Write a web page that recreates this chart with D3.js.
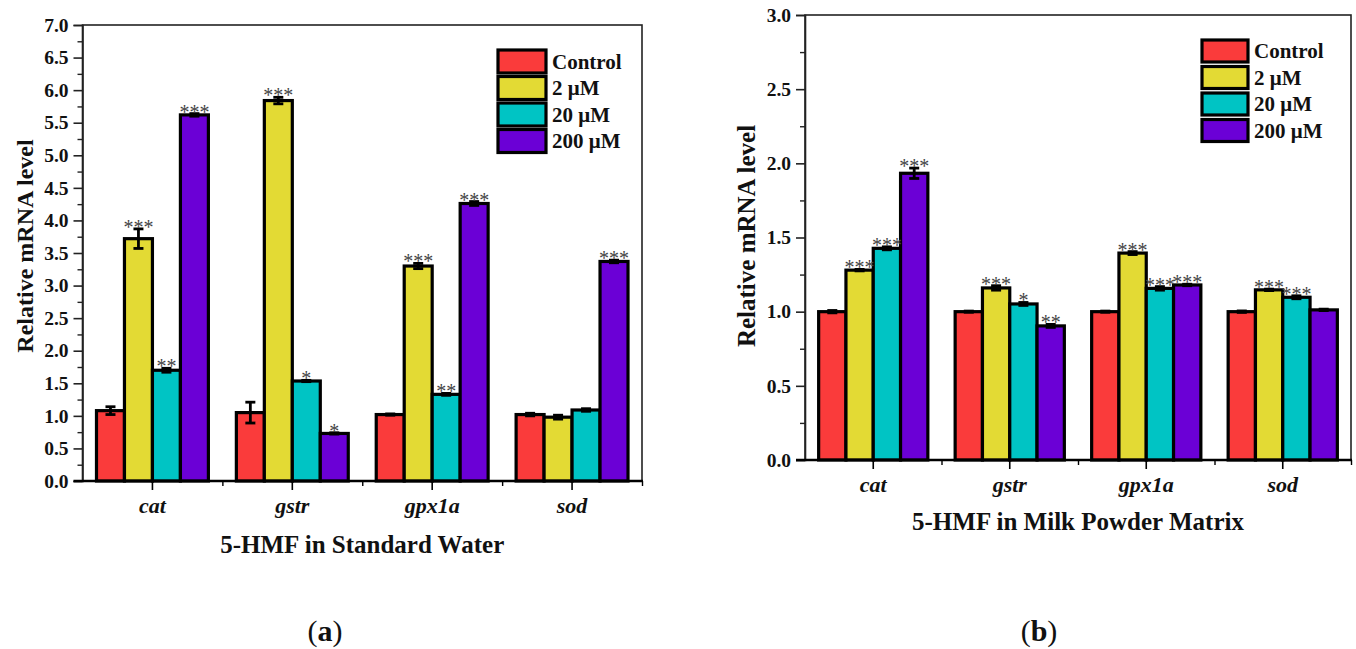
<!DOCTYPE html>
<html>
<head>
<meta charset="utf-8">
<script src="https://cdn.jsdelivr.net/npm/d3@7"></script>
<style>
  html, body { margin: 0; padding: 0; background: #fff; }
  svg { display: block; }
  text { font-family: "Liberation Serif", "Times New Roman", serif; }
</style>
</head>
<body>
<svg id="chart" width="1356" height="649"></svg>
<script>
// ---------------- DATA ----------------
const categories = ["cat", "gstr", "gpx1a", "sod"];
const seriesNames = ["Control", "2 μM", "20 μM", "200 μM"];

// Panel (a): 5-HMF in Standard Water
const waterControl = [1.08, 1.05, 1.02, 1.02];
const waterControlErr = [0.06, 0.16, 0.01, 0.02];
const water2 = [3.72, 5.84, 3.30, 0.98];
const water2Err = [0.15, 0.05, 0.04, 0.03];
const water20 = [1.70, 1.535, 1.33, 1.09];
const water20Err = [0.03, 0.01, 0.015, 0.02];
const water200 = [5.62, 0.73, 4.26, 3.37];
const water200Err = [0.02, 0.01, 0.03, 0.02];
const waterStarsControl = ["", "", "", ""];
const waterStars2 = ["***", "***", "***", ""];
const waterStars20 = ["**", "*", "**", ""];
const waterStars200 = ["***", "*", "***", "***"];

// Panel (b): 5-HMF in Milk Powder Matrix
const milkControl = [1.00, 1.00, 1.00, 1.00];
const milkControlErr = [0.008, 0.004, 0.004, 0.005];
const milk2 = [1.28, 1.16, 1.395, 1.147];
const milk2Err = [0.005, 0.015, 0.01, 0.005];
const milk20 = [1.427, 1.052, 1.157, 1.097];
const milk20Err = [0.01, 0.01, 0.012, 0.01];
const milk200 = [1.933, 0.904, 1.18, 1.012];
const milk200Err = [0.035, 0.01, 0.005, 0.005];
const milkStarsControl = ["", "", "", ""];
const milkStars2 = ["***", "***", "***", "***"];
const milkStars20 = ["***", "*", "***", "***"];
const milkStars200 = ["***", "**", "***", ""];

const waterTicks = [0, 0.5, 1, 1.5, 2, 2.5, 3, 3.5, 4, 4.5, 5, 5.5, 6, 6.5, 7];
const milkTicks = [0, 0.5, 1, 1.5, 2, 2.5, 3];

const colors = ["#fa3b3b", "#e3da34", "#00c4c4", "#6b00d6"];

// ---------------- DRAW ----------------
const svg = d3.select("#chart");
const FONT = '"Liberation Serif", "Times New Roman", serif';

function drawPanel(cfg) {
  const g = svg.append("g");
  const x = d3.scaleBand().domain(categories).range([cfg.x0, cfg.x1]).paddingInner(0).paddingOuter(0);
  const bw = x.bandwidth();
  const xs = d3.scaleBand().domain(d3.range(seriesNames.length)).range([bw * 0.1, bw * 0.9]).padding(0);
  const y = d3.scaleLinear().domain([0, cfg.ymax]).range([cfg.yBottom, cfg.yTop]);

  // bars
  cfg.series.forEach((s, si) => {
    const sg = g.append("g");
    sg.selectAll("rect").data(s.values).enter().append("rect")
      .attr("x", (d, i) => x(categories[i]) + xs(si))
      .attr("y", d => y(d))
      .attr("width", xs.bandwidth())
      .attr("height", d => y(0) - y(d))
      .attr("fill", colors[si])
      .attr("stroke", "#000")
      .attr("stroke-width", 3.2);
  });

  // error bars + stars
  cfg.series.forEach((s, si) => {
    const eg = g.append("g").attr("stroke", "#000").attr("stroke-width", 2.8);
    s.values.forEach((v, i) => {
      const cx = x(categories[i]) + xs(si) + xs.bandwidth() / 2;
      const e = s.err[i];
      eg.append("line").attr("x1", cx).attr("x2", cx).attr("y1", y(v - e)).attr("y2", y(v + e));
      eg.append("line").attr("x1", cx - 5).attr("x2", cx + 5).attr("y1", y(v - e)).attr("y2", y(v - e));
      eg.append("line").attr("x1", cx - 5).attr("x2", cx + 5).attr("y1", y(v + e)).attr("y2", y(v + e));
      if (s.stars[i]) {
        g.append("text")
          .attr("x", cx).attr("y", y(v + e) + 5)
          .attr("text-anchor", "middle")
          .attr("font-size", 20).attr("fill", "#444")
          .text(s.stars[i]);
      }
    });
  });

  // frame (top, right, left)
  g.append("rect")
    .attr("x", cfg.x0).attr("y", cfg.yTop)
    .attr("width", cfg.x1 - cfg.x0).attr("height", cfg.yBottom - cfg.yTop)
    .attr("fill", "none").attr("stroke", "#222").attr("stroke-width", 1.6);

  // y axis
  const yAxis = d3.axisLeft(y).tickValues(cfg.ticks).tickFormat(d3.format(".1f")).tickSize(9).tickPadding(5);
  const ya = g.append("g").attr("transform", `translate(${cfg.x0},0)`).call(yAxis);
  ya.select(".domain").attr("stroke", "#222").attr("stroke-width", 1.6);
  ya.selectAll(".tick line").attr("stroke", "#222").attr("stroke-width", 1.6);
  ya.selectAll("text").attr("font-family", FONT).attr("font-size", 19.5).attr("font-weight", "bold").attr("fill", "#111");
  const minorY = cfg.ticks.slice(0, -1).map(t => t + 0.25);
  const yMinor = d3.axisLeft(y).tickValues(minorY).tickFormat("").tickSize(5);
  const ym = g.append("g").attr("transform", `translate(${cfg.x0},0)`).call(yMinor);
  ym.select(".domain").remove();
  ym.selectAll(".tick line").attr("stroke", "#222").attr("stroke-width", 1.4);

  // x axis
  const xAxis = d3.axisBottom(x).tickSize(9).tickPadding(7).tickSizeOuter(0);
  const xa = g.append("g").attr("transform", `translate(0,${cfg.yBottom})`).call(xAxis);
  xa.select(".domain").attr("stroke", "#000").attr("stroke-width", 2.6)
    .attr("d", `M${cfg.x0 - 9},0H${cfg.x1 + 1}`);
  xa.selectAll(".tick line").attr("stroke", "#000").attr("stroke-width", 1.6);
  xa.selectAll("text").attr("font-family", FONT).attr("font-size", 22)
    .attr("font-weight", "bold").attr("font-style", "italic").attr("fill", "#111");
  const xe = d3.scaleLinear().domain([0, categories.length]).range([cfg.x0, cfg.x1]);
  const xMinor = d3.axisBottom(xe).tickValues(d3.range(1, categories.length + 1)).tickFormat("").tickSize(5).tickSizeOuter(0);
  const xm = g.append("g").attr("transform", `translate(0,${cfg.yBottom})`).call(xMinor);
  xm.select(".domain").remove();
  xm.selectAll(".tick line").attr("stroke", "#000").attr("stroke-width", 1.4);

  // axis titles
  g.append("text")
    .attr("x", (cfg.x0 + cfg.x1) / 2).attr("y", cfg.yBottom + cfg.xTitleDy)
    .attr("text-anchor", "middle").attr("font-size", cfg.xTitleSize).attr("font-weight", "bold").attr("fill", "#111")
    .text(cfg.xTitle);
  g.append("text")
    .attr("transform", `translate(${cfg.yTitleX},${cfg.yTitleY}) rotate(-90)`)
    .attr("text-anchor", "middle").attr("font-size", cfg.yTitleSize).attr("font-weight", "bold").attr("fill", "#111")
    .text("Relative mRNA level");

  // legend
  const lg = g.append("g");
  seriesNames.forEach((name, si) => {
    const ty = cfg.legY + si * cfg.legPitch;
    lg.append("rect")
      .attr("x", cfg.legX).attr("y", ty)
      .attr("width", cfg.legW).attr("height", cfg.legH)
      .attr("fill", colors[si]).attr("stroke", "#000").attr("stroke-width", 3.2);
    lg.append("text")
      .attr("x", cfg.legX + cfg.legW + 6).attr("y", ty + cfg.legH / 2 + 7)
      .attr("font-size", cfg.legFont).attr("font-weight", "bold").attr("fill", "#111")
      .text(name);
  });

  // caption
  const cap = svg.append("text")
    .attr("x", cfg.capX).attr("y", 641)
    .attr("text-anchor", "middle").attr("font-size", 30).attr("fill", "#111");
  cap.append("tspan").text("(");
  cap.append("tspan").attr("font-weight", "bold").text(cfg.capLetter);
  cap.append("tspan").text(")");
}

drawPanel({
  x0: 82.5, x1: 642, yBottom: 481, yTop: 25, ymax: 7, ticks: waterTicks,
  series: [
    { values: waterControl, err: waterControlErr, stars: waterStarsControl },
    { values: water2, err: water2Err, stars: waterStars2 },
    { values: water20, err: water20Err, stars: waterStars20 },
    { values: water200, err: water200Err, stars: waterStars200 }
  ],
  xTitle: "5-HMF in Standard Water", xTitleDy: 72, xTitleSize: 25,
  yTitleX: 33, yTitleY: 246, yTitleSize: 24,
  legX: 498, legY: 50, legPitch: 26.5, legW: 48, legH: 23, legFont: 21,
  capX: 325, capLetter: "a"
});

drawPanel({
  x0: 805, x1: 1351, yBottom: 460, yTop: 15, ymax: 3, ticks: milkTicks,
  series: [
    { values: milkControl, err: milkControlErr, stars: milkStarsControl },
    { values: milk2, err: milk2Err, stars: milkStars2 },
    { values: milk20, err: milk20Err, stars: milkStars20 },
    { values: milk200, err: milk200Err, stars: milkStars200 }
  ],
  xTitle: "5-HMF in Milk Powder Matrix", xTitleDy: 70, xTitleSize: 25,
  yTitleX: 755, yTitleY: 236, yTitleSize: 25,
  legX: 1202, legY: 40, legPitch: 26.5, legW: 46, legH: 22, legFont: 21,
  capX: 1039, capLetter: "b"
});
</script>
</body>
</html>
